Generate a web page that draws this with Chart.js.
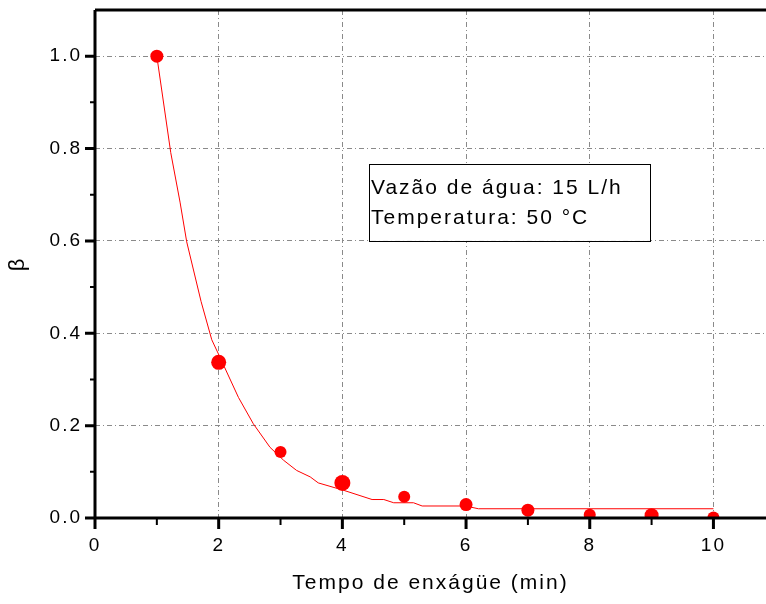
<!DOCTYPE html>
<html>
<head>
<meta charset="utf-8">
<script src="https://cdn.jsdelivr.net/npm/chart.js@4"></script>
<style>
  html, body { margin: 0; padding: 0; background: #fff; }
  #wrap { width: 766px; height: 604px; }
</style>
</head>
<body>
<div id="wrap"><canvas id="chart" width="766" height="604"></canvas></div>
<script>
// measured points (tempo de enxágüe, min -> beta)
const timeMin = [1, 2, 3, 4, 5, 6, 7, 8, 9, 10];
const betaMeas = [1.0, 0.337, 0.143, 0.076, 0.046, 0.029, 0.017, 0.007, 0.006, 0.001];
const markerSize = [6.5, 7.5, 6, 8, 6, 6.5, 6.5, 6, 7, 6];

// fitted curve
const fitX = [1.0, 1.225, 1.375, 1.483, 1.715, 1.888, 2.0, 2.32, 2.56, 2.83, 3.05, 3.26, 3.48, 3.61, 4.02, 4.48, 4.67, 4.83, 5.15, 5.29, 5.99, 6.2, 10];
const fitY = [1.0, 0.791, 0.684, 0.598, 0.469, 0.386, 0.354, 0.261, 0.204, 0.153, 0.125, 0.103, 0.089, 0.076, 0.060, 0.040, 0.040, 0.033, 0.033, 0.026, 0.026, 0.020, 0.020];

const xTicks = [0, 2, 4, 6, 8, 10];
const xMinor = [1, 3, 5, 7, 9];
const yTicks = [0, 0.2, 0.4, 0.6, 0.8, 1.0];
const yMinor = [0.1, 0.3, 0.5, 0.7, 0.9];

const legendLines = ['Vazão de água: 15 L/h', 'Temperatura: 50 °C'];

const FONT = '"Liberation Sans", Arial, sans-serif';

// the original has loosely spaced text
const spacing = {
  id: 'spacing',
  beforeDraw(chart) { chart.ctx.letterSpacing = '2px'; }
};

// no extra room for tick labels, chart area is set by afterFit
const noPad = s => { s.paddingTop = 0; s.paddingBottom = 0; s.paddingLeft = 0; s.paddingRight = 0; };

// axis frame, tick marks and the text box
const frame = {
  id: 'frame',
  afterDraw(chart) {
    const { ctx, chartArea: a, scales: { x, y } } = chart;
    ctx.save();
    ctx.strokeStyle = '#000';
    ctx.lineWidth = 3;
    ctx.beginPath();
    ctx.moveTo(a.left, a.bottom); ctx.lineTo(a.right, a.bottom);
    ctx.moveTo(a.left, a.bottom); ctx.lineTo(a.left, a.top);
    ctx.moveTo(a.left, a.top); ctx.lineTo(a.right, a.top);
    ctx.stroke();

    ctx.beginPath();
    xTicks.forEach(v => { const px = x.getPixelForValue(v); ctx.moveTo(px, a.bottom); ctx.lineTo(px, a.bottom + 11); });
    yTicks.forEach(v => { const py = y.getPixelForValue(v); ctx.moveTo(a.left, py); ctx.lineTo(a.left - 10, py); });
    ctx.stroke();
    ctx.lineWidth = 2;
    ctx.beginPath();
    xMinor.forEach(v => { const px = x.getPixelForValue(v); ctx.moveTo(px, a.bottom); ctx.lineTo(px, a.bottom + 7); });
    yMinor.forEach(v => { const py = y.getPixelForValue(v); ctx.moveTo(a.left, py); ctx.lineTo(a.left - 5, py); });
    ctx.stroke();

    // text box
    const bx0 = x.getPixelForValue(4.43), bx1 = x.getPixelForValue(8.98);
    const by0 = y.getPixelForValue(0.766), by1 = y.getPixelForValue(0.6);
    ctx.fillStyle = '#fff';
    ctx.fillRect(bx0, by0, bx1 - bx0, by1 - by0);
    ctx.lineWidth = 1;
    ctx.strokeStyle = '#000';
    ctx.strokeRect(Math.round(bx0) + 0.5, Math.round(by0) + 0.5, Math.round(bx1 - bx0), Math.round(by1 - by0));
    ctx.fillStyle = '#000';
    ctx.font = '21px ' + FONT;
    ctx.letterSpacing = '2px';
    ctx.textBaseline = 'alphabetic';
    ctx.fillText(legendLines[0], bx0 + 2, by0 + 30);
    ctx.fillText(legendLines[1], bx0 + 2, by0 + 60);
    ctx.restore();
  }
};

new Chart(document.getElementById('chart'), {
  type: 'scatter',
  data: {
    datasets: [
      {
        type: 'line',
        data: fitX.map((v, i) => ({ x: v, y: fitY[i] })),
        borderColor: '#ff0000',
        borderWidth: 1,
        pointRadius: 0,
        fill: false,
        tension: 0,
        clip: 0
      },
      {
        data: timeMin.map((v, i) => ({ x: v, y: betaMeas[i] })),
        backgroundColor: '#ff0000',
        borderWidth: 0,
        pointRadius: markerSize,
        pointHoverRadius: markerSize,
        clip: 0
      }
    ]
  },
  options: {
    responsive: false,
    devicePixelRatio: 1,
    animation: false,
    layout: { autoPadding: false, padding: { top: 10, right: 0, left: 0, bottom: 0 } },
    plugins: { legend: { display: false }, tooltip: { enabled: false } },
    scales: {
      x: {
        type: 'linear',
        min: 0,
        max: 10.85,
        afterFit: s => { s.height = 86; noPad(s); },
        afterBuildTicks: s => { s.ticks = xTicks.map(v => ({ value: v })); },
        grid: { color: '#8a8a8a', lineWidth: 1, drawTicks: false },
        border: { display: false, dash: [5, 3, 1, 3] },
        ticks: {
          color: '#000',
          padding: 16,
          font: { family: FONT, size: 19 },
          callback: v => String(v)
        },
        title: {
          display: true,
          text: 'Tempo de enxágüe (min)',
          color: '#000',
          font: { family: FONT, size: 21 },
          padding: { top: 0, bottom: 8 }
        }
      },
      y: {
        type: 'linear',
        min: 0,
        max: 1.1,
        afterFit: s => { s.width = 95; noPad(s); },
        afterBuildTicks: s => { s.ticks = yTicks.map(v => ({ value: v })); },
        grid: { color: '#8a8a8a', lineWidth: 1, drawTicks: false },
        border: { display: false, dash: [5, 3, 1, 3] },
        ticks: {
          color: '#000',
          padding: 13,
          font: { family: FONT, size: 19 },
          callback: v => v.toFixed(1)
        },
        title: {
          display: true,
          text: 'β',
          color: '#000',
          font: { family: FONT, size: 22 },
          padding: { top: 5, bottom: 0 }
        }
      }
    }
  },
  plugins: [spacing, frame]
});
</script>
</body>
</html>
